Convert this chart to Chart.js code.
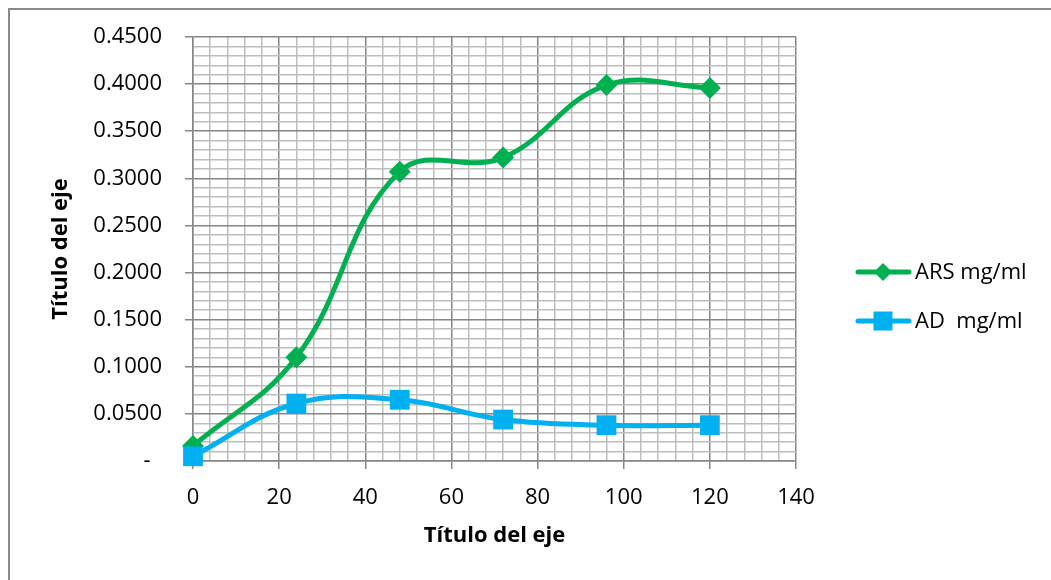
<!DOCTYPE html>
<html>
<head>
<meta charset="utf-8">
<script src="https://cdn.jsdelivr.net/npm/chart.js@4"></script>
<style>
  html, body { margin: 0; padding: 0; background: #ffffff; }
  #wrap { width: 1051px; height: 580px; }
</style>
</head>
<body>
<div id="wrap"><canvas id="c" width="1051" height="580"></canvas></div>
<script>
// Sampling times (x) and measured concentrations
const hours = [0, 24, 48, 72, 96, 120];
const arsValues = [0.016, 0.110, 0.307, 0.322, 0.399, 0.396];
const adValues = [0.005, 0.061, 0.065, 0.044, 0.038, 0.038];

const seriesNames = ['ARS mg/ml', 'AD  mg/ml'];
const xTickLabels = ['0', '20', '40', '60', '80', '100', '120', '140'];
const yTickLabels = ['-  ', '0.0500', '0.1000', '0.1500', '0.2000', '0.2500', '0.3000', '0.3500', '0.4000', '0.4500'];
const axisTitle = 'Título del eje';

const GREEN = '#00B050';
const BLUE = '#00B0F0';
const MAJOR = '#868686';
const MINOR = '#BDBDBD';
const FONT = "'Open Sans', 'Noto Sans', sans-serif";

const toPoints = (xs, ys) => xs.map((x, i) => ({ x: x, y: ys[i] }));

// y: minor grid every 0.01, labelled every 0.05
const yIsMajor = v => Math.round(v * 100) % 5 === 0;
// x: minor grid every 4, labelled every 20
const xIsMajor = v => Math.round(v) % 20 === 0;

// Outer frame drawn behind everything
const framePlugin = {
  id: 'frame',
  beforeDraw(chart) {
    const ctx = chart.ctx;
    ctx.save();
    ctx.fillStyle = '#ffffff';
    ctx.fillRect(0, 0, chart.width, chart.height);
    ctx.fillStyle = '#8a8a8a';
    ctx.fillRect(8, 8, chart.width - 8, 2);
    ctx.fillRect(8, 8, 2, chart.height - 8);
    ctx.restore();
  }
};

// Legend at the right: line with marker, then the series name
const legendPlugin = {
  id: 'sideLegend',
  afterDraw(chart) {
    const ctx = chart.ctx;
    const items = [
      { name: seriesNames[0], color: GREEN, shape: 'diamond', y: 272 },
      { name: seriesNames[1], color: BLUE, shape: 'square', y: 321 }
    ];
    ctx.save();
    items.forEach(it => {
      ctx.strokeStyle = it.color;
      ctx.lineWidth = 5;
      ctx.lineCap = 'round';
      ctx.beginPath();
      ctx.moveTo(858, it.y);
      ctx.lineTo(909, it.y);
      ctx.stroke();
      ctx.fillStyle = it.color;
      ctx.beginPath();
      if (it.shape === 'diamond') {
        const r = 9;
        ctx.moveTo(883, it.y - r);
        ctx.lineTo(883 + r, it.y);
        ctx.lineTo(883, it.y + r);
        ctx.lineTo(883 - r, it.y);
        ctx.closePath();
      } else {
        ctx.rect(883 - 9.5, it.y - 9.5, 19, 19);
      }
      ctx.fill();
      ctx.fillStyle = '#000000';
      ctx.font = '22px ' + FONT;
      ctx.textAlign = 'left';
      ctx.textBaseline = 'middle';
      ctx.fillText(it.name, 915, it.y + 1);
    });
    ctx.restore();
  }
};

new Chart(document.getElementById('c'), {
  type: 'line',
  data: {
    datasets: [
      {
        label: seriesNames[0],
        data: toPoints(hours, arsValues),
        borderColor: GREEN,
        backgroundColor: GREEN,
        borderWidth: 5,
        pointStyle: 'rectRot',
        pointRadius: 11,
        pointHoverRadius: 11,
        pointBorderWidth: 0,
        tension: 0.4,
        clip: false,
        order: 2
      },
      {
        label: seriesNames[1],
        data: toPoints(hours, adValues),
        borderColor: BLUE,
        backgroundColor: BLUE,
        borderWidth: 5,
        pointStyle: 'rect',
        pointRadius: 14,
        pointHoverRadius: 14,
        pointBorderWidth: 0,
        tension: 0.4,
        clip: false,
        order: 1
      }
    ]
  },
  options: {
    responsive: false,
    animation: false,
    events: [],
    layout: { padding: { top: 37, right: 255, left: 0, bottom: 0 } },
    plugins: {
      legend: { display: false },
      tooltip: { enabled: false }
    },
    scales: {
      x: {
        type: 'linear',
        min: 0,
        max: 140,
        afterFit(scale) { scale.height = 119; },
        border: { color: MAJOR, width: 1.5 },
        grid: {
          lineWidth: 1.5,
          color: ctx => xIsMajor(ctx.tick.value) ? MAJOR : MINOR,
          tickColor: ctx => xIsMajor(ctx.tick.value) ? MAJOR : 'rgba(0,0,0,0)',
          tickLength: 8
        },
        ticks: {
          stepSize: 4,
          autoSkip: false,
          maxRotation: 0,
          padding: 16,
          color: '#000000',
          font: { family: FONT, size: 22 },
          callback: v => xIsMajor(v) ? xTickLabels[Math.round(v / 20)] : ''
        },
        title: {
          display: true,
          text: axisTitle,
          color: '#000000',
          font: { family: FONT, size: 22, weight: 'bold' },
          padding: { top: 0, bottom: 31 }
        }
      },
      y: {
        type: 'linear',
        min: 0,
        max: 0.45,
        afterFit(scale) { scale.width = 193; },
        border: { color: MAJOR, width: 1.5 },
        grid: {
          lineWidth: 1.5,
          color: ctx => yIsMajor(ctx.tick.value) ? MAJOR : MINOR,
          tickColor: ctx => yIsMajor(ctx.tick.value) ? MAJOR : 'rgba(0,0,0,0)',
          tickLength: 8
        },
        ticks: {
          stepSize: 0.01,
          autoSkip: false,
          padding: 23,
          color: '#000000',
          font: { family: FONT, size: 22 },
          callback: v => yIsMajor(v) ? yTickLabels[Math.round(v / 0.05)] : ''
        },
        title: {
          display: true,
          text: axisTitle,
          color: '#000000',
          font: { family: FONT, size: 22, weight: 'bold' },
          padding: { top: 48, bottom: 0 }
        }
      }
    }
  },
  plugins: [framePlugin, legendPlugin]
});
</script>
</body>
</html>
